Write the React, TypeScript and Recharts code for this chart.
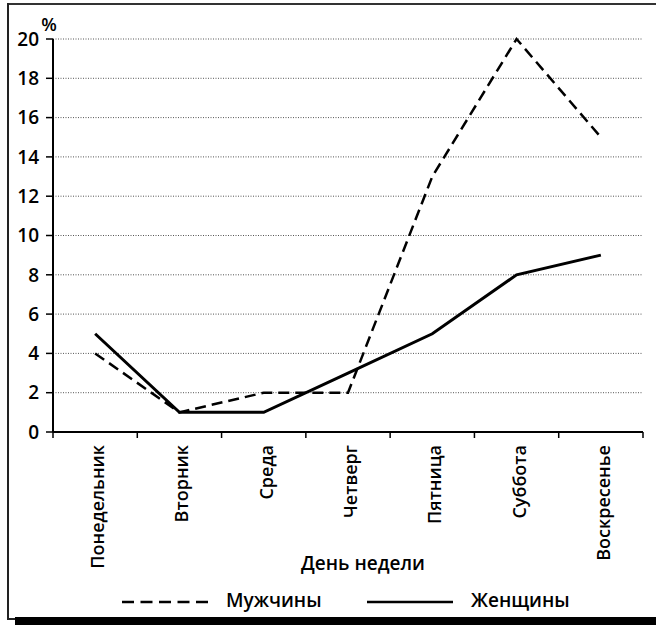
import React from 'react';
import { LineChart, Line, XAxis, YAxis, CartesianGrid } from 'recharts';

const days = ['Понедельник', 'Вторник', 'Среда', 'Четверг', 'Пятница', 'Суббота', 'Воскресенье'];
const men = [4, 1, 2, 2, 13, 20, 15];
const women = [5, 1, 1, 3, 5, 8, 9];
const yTicks = [0, 2, 4, 6, 8, 10, 12, 14, 16, 18, 20];
const seriesNames = { men: 'Мужчины', women: 'Женщины' };
const axisTitle = 'День недели';
const unitLabel = '%';

const data = days.map((d, i) => ({ x: i + 0.5, day: d, men: men[i], women: women[i] }));
const xTicks = Array.from({ length: days.length * 2 + 1 }, (_, i) => i / 2);

const FONT = '"Open Sans", "DejaVu Sans", sans-serif';

const XTick = (props: any) => {
  const { x, y, payload } = props;
  const v = payload.value;
  if (Number.isInteger(v)) {
    return <line x1={x} x2={x} y1={y} y2={y + 6} stroke="#000" strokeWidth={1.5} />;
  }
  const idx = Math.floor(v);
  const tx = x + 9;
  const ty = y + 13;
  return (
    <text
      x={tx}
      y={ty}
      transform={`rotate(-90, ${tx}, ${ty})`}
      textAnchor="end"
      fontFamily={FONT}
      fontSize={18}
      fontWeight={600}
      fill="#000"
    >
      {days[idx]}
    </text>
  );
};

export default function App() {
  return (
    <div style={{ position: 'absolute', left: 0, top: 0, width: 656, height: 625, background: '#fff', overflow: 'hidden' }}>
      <LineChart width={656} height={625} data={data} margin={{ top: 39, right: 13, bottom: 0, left: 0 }}>
        <CartesianGrid vertical={false} stroke="#555" strokeDasharray="1 1.5" strokeWidth={1} />
        <XAxis
          dataKey="x"
          type="number"
          domain={[0, days.length]}
          ticks={xTicks}
          interval={0}
          tick={<XTick />}
          tickLine={false}
          tickSize={0}
          tickMargin={0}
          axisLine={{ stroke: '#000', strokeWidth: 2 }}
          height={193}
          label={{
            value: axisTitle,
            position: 'insideBottom',
            offset: 55,
            dx: 15,
            fill: '#000',
            fontSize: 19,
            fontWeight: 600,
            fontFamily: FONT,
          }}
        />
        <YAxis
          domain={[0, 20]}
          ticks={yTicks}
          interval={0}
          width={53}
          tickSize={7}
          tickMargin={7}
          tickLine={{ stroke: '#000', strokeWidth: 1.5 }}
          axisLine={{ stroke: '#000', strokeWidth: 2 }}
          tick={{ fill: '#000', fontSize: 19, fontWeight: 600, fontFamily: FONT }}
          label={{
            value: unitLabel,
            content: (p: any) => (
              <text
                x={p.viewBox.x + p.viewBox.width - 4}
                y={p.viewBox.y - 8}
                textAnchor="middle"
                fontFamily={FONT}
                fontSize={18}
                fontWeight={600}
                fill="#000"
              >
                {unitLabel}
              </text>
            ),
          }}
        />
        <Line
          dataKey="men"
          name={seriesNames.men}
          stroke="#000"
          strokeWidth={2.5}
          strokeDasharray="11 6"
          dot={false}
          activeDot={false}
          isAnimationActive={false}
          type="linear"
        />
        <Line
          dataKey="women"
          name={seriesNames.women}
          stroke="#000"
          strokeWidth={3}
          dot={false}
          activeDot={false}
          isAnimationActive={false}
          type="linear"
        />
      </LineChart>
      <div style={{ position: 'absolute', left: 0, top: 586, width: 656, height: 30, fontFamily: FONT, fontSize: 19, fontWeight: 600, color: '#000' }}>
        <svg style={{ position: 'absolute', left: 0, top: 0 }} width={656} height={30}>
          <line x1={122} x2={208} y1={16} y2={16} stroke="#000" strokeWidth={2.5} strokeDasharray="12 6.5" />
          <line x1={367} x2={453} y1={16} y2={16} stroke="#000" strokeWidth={2.5} />
        </svg>
        <span style={{ position: 'absolute', left: 226, top: 1, lineHeight: '26px' }}>{seriesNames.men}</span>
        <span style={{ position: 'absolute', left: 471, top: 1, lineHeight: '26px' }}>{seriesNames.women}</span>
      </div>
      <div style={{ position: 'absolute', left: 7, top: 3, width: 649, height: 2, background: '#333' }} />
      <div style={{ position: 'absolute', left: 7, top: 3, width: 2, height: 617, background: '#222' }} />
      <div style={{ position: 'absolute', left: 7, top: 618, width: 10, height: 2, background: '#222' }} />
      <div style={{ position: 'absolute', left: 15, top: 617, width: 641, height: 8, background: '#000' }} />
    </div>
  );
}
